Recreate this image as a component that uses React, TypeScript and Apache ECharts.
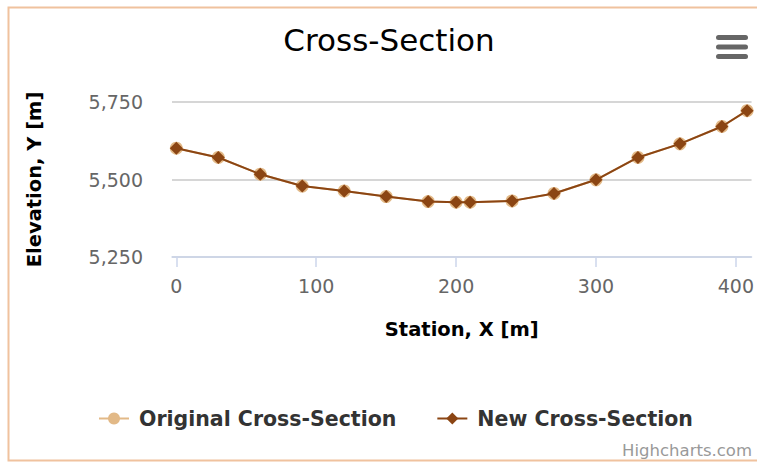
import React, { useEffect, useRef } from "react";
import * as echarts from "echarts";

const stations = [0, 30, 60, 90, 120, 150, 180, 200, 210, 240, 270, 300, 330, 360, 390, 408];
const originalElev = [5601, 5571, 5517, 5479, 5463, 5445, 5429, 5427, 5427, 5431, 5455, 5499, 5571, 5615, 5671, 5722];
const newElev = [5601, 5571, 5517, 5479, 5463, 5445, 5429, 5427, 5427, 5431, 5455, 5499, 5571, 5615, 5671, 5722];
const xTicks = [0, 100, 200, 300, 400];
const seriesNames = ["Original Cross-Section", "New Cross-Section"];

const FONT = "'DejaVu Sans', Verdana, sans-serif";

export default function App() {
  const ref = useRef<HTMLDivElement>(null);
  useEffect(() => {
    if (!ref.current) return;
    const chart = echarts.init(ref.current, null, { renderer: "svg" });
    const pairs = (ys: number[]) => stations.map((x, i) => [x, ys[i]]);
    chart.setOption({
      animation: false,
      textStyle: { fontFamily: FONT },
      grid: { left: 172, right: 4, top: 102, height: 155, containLabel: false },
      xAxis: {
        type: "value",
        min: -3.1,
        max: 411.2,
        name: "Station, X [m]",
        nameLocation: "middle",
        nameGap: 62,
        nameTextStyle: { fontSize: 19.5, fontWeight: "bold", color: "#000", fontFamily: FONT },
        axisLine: { show: true, lineStyle: { color: "#ccd6eb", width: 1.5 } },
        axisTick: { show: true, length: 10, customValues: xTicks, lineStyle: { color: "#ccd6eb", width: 1.5 } },
        axisLabel: { customValues: xTicks, color: "#666", fontSize: 19, margin: 19, fontFamily: FONT },
        splitLine: { show: false },
      },
      yAxis: {
        type: "value",
        min: 5250,
        max: 5750,
        interval: 250,
        name: "Elevation, Y [m]",
        nameLocation: "middle",
        nameGap: 128,
        nameRotate: 90,
        nameTextStyle: { fontSize: 19.5, fontWeight: "bold", color: "#000", fontFamily: FONT },
        axisLine: { show: false },
        axisTick: { show: false },
        axisLabel: {
          color: "#666",
          fontSize: 19,
          margin: 29,
          fontFamily: FONT,
          formatter: (v: number) => v.toLocaleString("en-US"),
        },
        splitLine: { show: true, lineStyle: { color: "#c8c8c8", width: 1.5 } },
      },
      legend: {
        left: 93,
        top: 403,
        itemWidth: 30,
        itemHeight: 15,
        itemGap: 40,
        textStyle: {
          fontSize: 20.5,
          fontWeight: "bold",
          color: "#333",
          fontFamily: FONT,
          padding: [0, 0, 0, 5],
        },
        data: seriesNames,
      },
      series: [
        {
          name: seriesNames[0],
          type: "line",
          data: pairs(originalElev),
          symbol: "circle",
          symbolSize: 13,
          itemStyle: { color: "#e2b987" },
          lineStyle: { color: "#e2b987", width: 2 },
          z: 2,
        },
        {
          name: seriesNames[1],
          type: "line",
          data: pairs(newElev),
          symbol: "diamond",
          symbolSize: 13,
          itemStyle: { color: "#8b4513" },
          lineStyle: { color: "#8b4513", width: 2 },
          z: 3,
        },
      ],
      graphic: [
        {
          type: "rect",
          shape: { x: 8.5, y: 7.5, width: 800, height: 453 },
          style: { fill: "none", stroke: "#f0c29e", lineWidth: 2 },
          silent: true,
          z: -1,
        },
        {
          type: "text",
          x: 389,
          y: 40,
          style: {
            text: "Cross-Section",
            fontSize: 31,
            fontFamily: FONT,
            fill: "#000",
            align: "center",
            verticalAlign: "middle",
          },
        },
        { type: "rect", shape: { x: 716, y: 35, width: 32, height: 5, r: 2.5 }, style: { fill: "#666" } },
        { type: "rect", shape: { x: 716, y: 44.5, width: 32, height: 5, r: 2.5 }, style: { fill: "#666" } },
        { type: "rect", shape: { x: 716, y: 54, width: 32, height: 5, r: 2.5 }, style: { fill: "#666" } },
        {
          type: "text",
          x: 752,
          y: 450,
          style: {
            text: "Highcharts.com",
            fontSize: 16.5,
            fontFamily: FONT,
            fill: "#999",
            align: "right",
            verticalAlign: "middle",
          },
        },
      ],
    });
    return () => chart.dispose();
  }, []);
  return (
    <div
      ref={ref}
      style={{ position: "fixed", left: 0, top: 0, width: 757, height: 462, background: "#fff" }}
    />
  );
}
